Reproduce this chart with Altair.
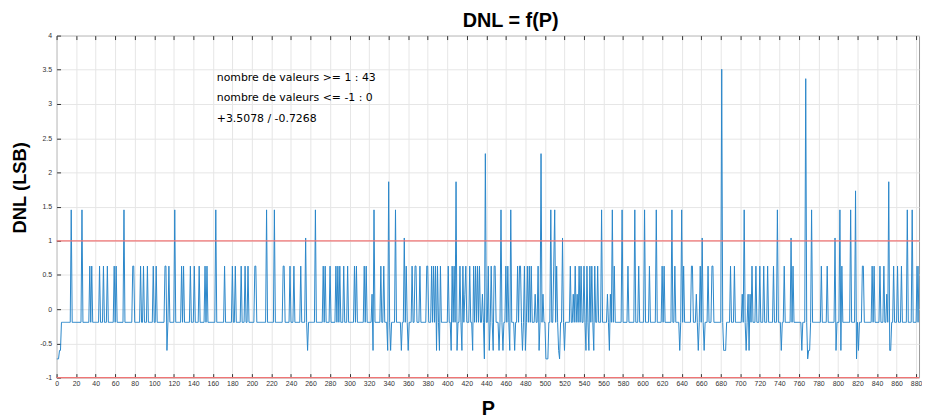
import altair as alt
import pandas as pd

# ---- data ----
n_points = 887
baseline = -0.192

p_level_m073 = [0, 1, 2, 438, 501, 502, 503, 515, 769, 819]
p_level_m060 = [3, 4, 113, 257, 324, 339, 342, 353, 360, 389, 392, 404, 410, 415, 426,
                443, 447, 453, 457, 464, 469, 477, 480, 494, 514, 520, 542, 545, 550, 566,
                638, 657, 663, 683, 684, 685, 706, 709, 742, 763, 770, 771, 798, 803, 821,
                853, 854]
p_level_022 = [323, 418, 436, 490, 498, 529, 533, 564, 567, 655, 702, 708, 710, 850]
p_level_063 = [34, 36, 44, 48, 52, 59, 61, 78, 79, 86, 89, 93, 99, 102,
               111, 112, 115, 128, 130, 137, 141, 146, 152, 154, 172, 180, 183, 189, 193, 196, 203, 204,
               232, 233, 239, 243, 250, 273, 275, 280, 286, 288, 290, 294, 298, 305, 307, 315, 317,
               332, 335, 358, 364, 367, 368, 372, 379, 380, 384, 386, 388, 390, 393, 401, 405, 407,
               413, 416, 419, 423, 427, 429, 431, 433,
               442, 445, 448, 449, 460, 462, 472, 474, 475, 479, 482, 484, 486, 493, 509, 512,
               526, 531, 535, 537, 540, 543, 546, 548,
               551, 554, 571, 585, 596, 607, 620, 622, 633, 642, 650, 651,
               659, 667, 671, 672, 690, 694, 712, 716, 720, 724, 728, 734, 745, 754,
               783, 789, 804, 825, 826, 835, 837, 843, 847, 857, 861, 865, 881, 883]
p_level_104 = [255, 356, 518, 661, 752, 797]
p_level_145 = [15, 26, 69, 121, 163, 215, 223, 265, 325, 347, 455, 465, 506, 510, 558, 569,
               579, 592, 602, 614, 630, 640, 704, 738, 773, 802, 813, 871, 876]
p_peaks = [340, 409, 439, 496, 681, 767, 818, 852]
v_peaks = [1.863, 1.863, 2.274, 2.274, 3.5078, 3.37, 1.73, 1.863]

level_values = {-0.7268: p_level_m073, -0.603: p_level_m060, 0.219: p_level_022,
                0.630: p_level_063, 1.041: p_level_104, 1.452: p_level_145}

ref_levels = [1, -1]
x_ticks = list(range(0, 881, 20))
y_ticks = [-1, -0.5, 0, 0.5, 1, 1.5, 2, 2.5, 3, 3.5, 4]

ann_x = [164, 164, 164]
ann_y = [3.377, 3.087, 2.783]
ann_text = ["nombre de valeurs >= 1 : 43", "nombre de valeurs <= -1 : 0", "+3.5078 / -0.7268"]

# ---- build table ----
vals = [baseline] * n_points
for v, plist in level_values.items():
    for p in plist:
        vals[p] = v
for p, v in zip(p_peaks, v_peaks):
    vals[p] = v
df = pd.DataFrame({"P": list(range(n_points)), "DNL": vals})
ref_df = pd.DataFrame({"DNL": ref_levels})
ann_df = pd.DataFrame({"P": ann_x, "DNL": ann_y, "label": ann_text})

x_scale = alt.Scale(domain=[0, 883], nice=False, zero=False)
y_scale = alt.Scale(domain=[-1, 4], nice=False, zero=False)

y_axis = alt.Axis(values=y_ticks, title="DNL (LSB)", offset=-4, tickSize=4, domain=False,
                  labelPadding=5, labelExpr="toString(datum.value)",
                  titleFontSize=18.5, titleFont="Liberation Sans", titleFontWeight="bold",
                  titleAngle=270, titleX=-41, titleY=153, titleBaseline="middle",
                  titleAlign="center", titleColor="black")

line = alt.Chart(df).mark_line(color="#2b87c9", strokeWidth=1, clip=True).encode(
    x=alt.X("P:Q", scale=x_scale,
            axis=alt.Axis(orient="bottom", values=x_ticks, title="P", offset=-4, tickSize=4,
                          domain=False, labelPadding=2, labelFlush=False,
                          titleFontSize=20, titleFont="Liberation Sans", titleFontWeight="bold",
                          titleY=35, titleBaseline="middle", titleColor="black")),
    y=alt.Y("DNL:Q", scale=y_scale, axis=y_axis),
)

top = alt.Chart(df).mark_line(opacity=0).encode(
    x=alt.X("P:Q", scale=x_scale,
            axis=alt.Axis(orient="top", values=x_ticks, labels=False, title="", grid=False,
                          domain=False, offset=-4, tickSize=4)),
    y=alt.Y("DNL:Q", scale=y_scale, axis=y_axis),
)

rules = alt.Chart(ref_df).mark_rule(color="#f07575", strokeWidth=1.2).encode(
    y=alt.Y("DNL:Q", scale=y_scale, axis=y_axis)
)

text = alt.Chart(ann_df).mark_text(align="left", baseline="middle", font="DejaVu Sans",
                                   fontSize=11, color="black").encode(
    x=alt.X("P:Q", scale=x_scale, axis=None),
    y=alt.Y("DNL:Q", scale=y_scale, axis=y_axis),
    text="label:N",
)

chart = alt.layer(line, rules, top, text).resolve_axis(x="independent").properties(
    width=870, height=345,
    padding={"left": 49, "top": 26, "right": 3, "bottom": 46},
    autosize=alt.AutoSizeParams(type="none"),
    title=alt.Title("DNL = f(P)", font="Liberation Sans", fontSize=20, fontWeight="bold",
                    anchor="middle", frame="group", dx=23, dy=25, offset=6, baseline="bottom",
                    color="black"),
).configure_view(stroke="#9a9a9a", strokeWidth=1).configure_axis(
    labelFont="Liberation Sans", labelFontSize=7, labelColor="#333333",
    tickColor="#333333", gridColor="#e6e6e6", gridWidth=1,
)

chart.save("out.html", embed_options={"renderer": "svg", "actions": False})
